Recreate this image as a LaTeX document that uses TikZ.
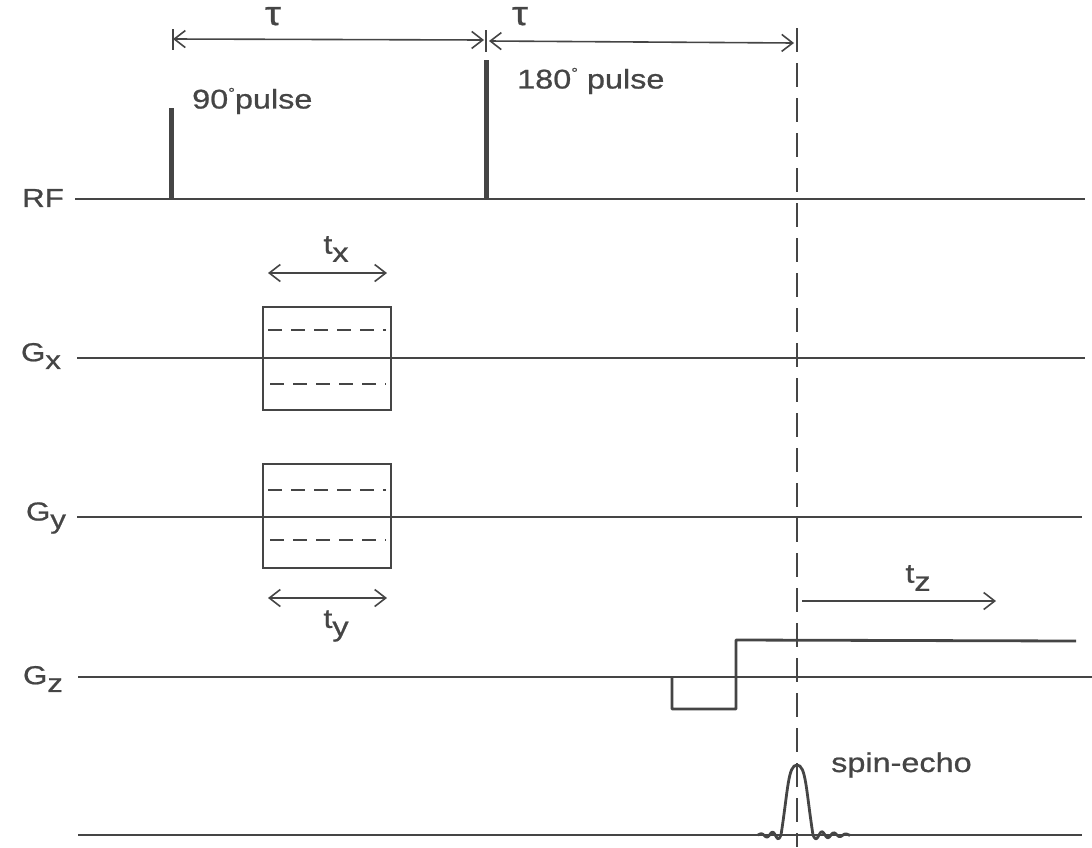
\documentclass[tikz,border=0pt]{standalone}
\usepackage{fontspec}
\setmainfont{Liberation Sans}[FakeStretch=1.2, FakeBold=0.8]
\usetikzlibrary{arrows.meta}
\definecolor{ink}{gray}{0.27}
\begin{document}
\begin{tikzpicture}[x=1pt,y=-1pt,
  ln/.style={line width=2.8pt, draw=ink},
  pulsebar/.style={line width=5pt, draw=ink},
  tick/.style={line width=1.6pt, draw=ink},
  dimline/.style={line width=1.6pt, draw=ink},
  barb/.tip={Straight Barb[length=11pt,width=17pt,line width=1.6pt]},
  inner/.style={line width=2.2pt, draw=ink, dash pattern=on 14pt off 9pt},
  vdash/.style={line width=2.2pt, draw=ink, dash pattern=on 24pt off 11pt},
  lab/.style={text=ink, inner sep=0pt, font=\fontsize{27}{31}\selectfont},
  chan/.style={text=ink, inner sep=0pt, font=\fontsize{26}{30}\selectfont},
  taust/.style={text=ink, inner sep=0pt, font=\fontsize{34}{38}\selectfont},
]
\useasboundingbox (0,0) rectangle (1092,847);

% ---- RF ----
\coordinate (rf0) at (75,199);  \coordinate (rf1) at (1085,199);
\draw[ln] (rf0) -- (rf1);
\coordinate (p90b) at (171,199); \coordinate (p90t) at (171,108);
\coordinate (p180b) at (486,199); \coordinate (p180t) at (486,60);
\draw[pulsebar] (p90b) -- (p90t);
\draw[pulsebar] (p180b) -- (p180t);
\node[chan] (RF) at (43,198) {RF};
\node[lab, anchor=west] (l90) at (192,101) {90\raisebox{0.4em}{\fontsize{14}{14}\selectfont °}pulse};
\node[lab, anchor=west] (l180) at (517,81) {180\raisebox{0.4em}{\fontsize{14}{14}\selectfont °} pulse};

% ---- tau arrows ----
\coordinate (ta0) at (173,39); \coordinate (ta1) at (484,40);
\coordinate (tb0) at (489,41); \coordinate (tb1) at (794,43);
\coordinate (k1a) at (173,29); \coordinate (k1b) at (173,50);
\coordinate (k2a) at (486,30); \coordinate (k2b) at (486,52);
\draw[tick] (k1a) -- (k1b);
\draw[tick] (k2a) -- (k2b);
\draw[dimline, {barb}-{barb}] (ta0) -- (ta1);
\draw[dimline, {barb}-{barb}] (tb0) -- (tb1);
\node[taust, anchor=base] (tau1) at (273,25) {τ};
\node[taust, anchor=base] (tau2) at (520,25) {τ};

% ---- echo time dashed line ----
\coordinate (v0) at (797,28); \coordinate (v1) at (797,847);
\draw[vdash] (v0) -- (v1);

% ---- Gx ----
\coordinate (gx0) at (77,358); \coordinate (gx1) at (1085,358);
\draw[ln] (gx0) -- (gx1);
\node[chan] (Gx) at (41,356) {G\raisebox{-0.3em}{x}};
\coordinate (bxa) at (263,307); \coordinate (bxb) at (391,410);
\draw[ln] (bxa) rectangle (bxb);
\coordinate (dx1a) at (268,330); \coordinate (dx1b) at (386,330);
\coordinate (dx2a) at (270,384); \coordinate (dx2b) at (386,384);
\draw[inner] (dx1a) -- (dx1b);
\draw[inner] (dx2a) -- (dx2b);
\coordinate (txa) at (268,273); \coordinate (txb) at (387,273);
\draw[dimline, {barb}-{barb}] (txa) -- (txb);
\node[lab] (tx) at (336,249) {t\raisebox{-0.3em}{x}};

% ---- Gy ----
\coordinate (gy0) at (77,517); \coordinate (gy1) at (1082,517);
\draw[ln] (gy0) -- (gy1);
\node[chan] (Gy) at (46,518) {G\raisebox{-0.3em}{y}};
\coordinate (bya) at (263,464); \coordinate (byb) at (391,568);
\draw[ln] (bya) rectangle (byb);
\coordinate (dy1a) at (268,490); \coordinate (dy1b) at (386,490);
\coordinate (dy2a) at (270,540); \coordinate (dy2b) at (386,540);
\draw[inner] (dy1a) -- (dy1b);
\draw[inner] (dy2a) -- (dy2b);
\coordinate (tya) at (268,598); \coordinate (tyb) at (387,598);
\draw[dimline, {barb}-{barb}] (tya) -- (tyb);
\node[lab] (ty) at (336,626) {t\raisebox{-0.3em}{y}};

% ---- Gz ----
\coordinate (gz0) at (78,677); \coordinate (gz1) at (1092,677);
\draw[ln] (gz0) -- (gz1);
\node[chan] (Gz) at (43,679) {G\raisebox{-0.3em}{z}};
\coordinate (z1) at (672,677); \coordinate (z2) at (672,709);
\coordinate (z3) at (736,709); \coordinate (z4) at (736,640);
\coordinate (z5) at (1076,641);
\draw[ln, line join=round] (z1) -- (z2) -- (z3) -- (z4) -- (z5);
\coordinate (tza) at (802,601); \coordinate (tzb) at (996,601);
\draw[dimline, -{barb}] (tza) -- (tzb);
\node[lab] (tz) at (918,578) {t\raisebox{-0.3em}{z}};

% ---- echo ----
\coordinate (e0) at (78,835); \coordinate (e1) at (1082,835);
\draw[ln] (e0) -- (e1);
\coordinate (ea) at (781,835); \coordinate (epk) at (797,765); \coordinate (eb) at (813,835);
\draw[ln] (ea) .. controls (788,790) and (788,765) .. (epk)
          .. controls (806,765) and (806,790) .. (eb);
\draw[ln] plot[domain=758:781, samples=40, smooth] (\x, {835 - 4*sin(360*(\x-781)/11.5)*(\x-752)/29});
\draw[ln] plot[domain=813:850, samples=50, smooth] (\x, {835 + 4*sin(360*(\x-813)/12)*(858-\x)/45});
\node[lab, anchor=west] (se) at (831,765) {spin-echo};
\end{tikzpicture}
\end{document}
